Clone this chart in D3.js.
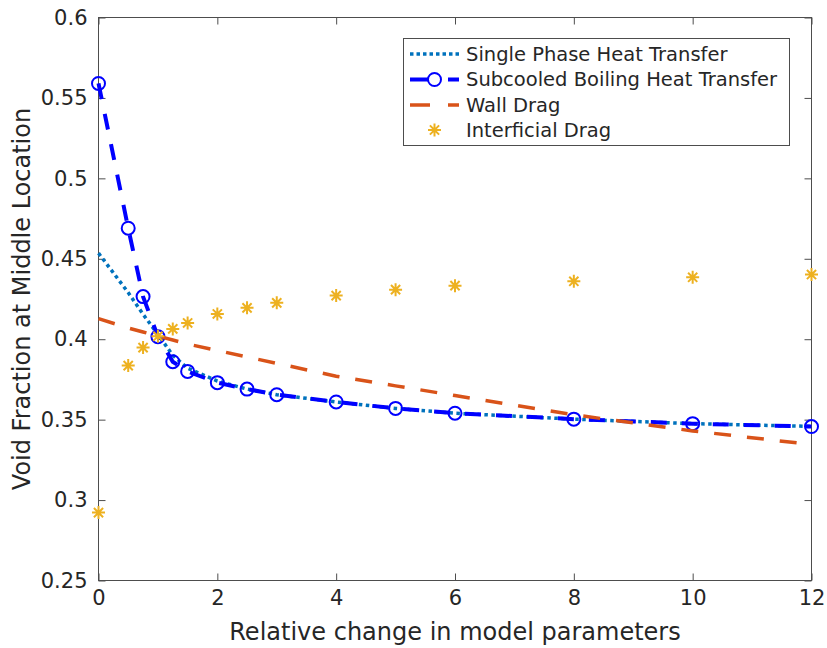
<!DOCTYPE html>
<html>
<head>
<meta charset="utf-8">
<script src="https://cdn.jsdelivr.net/npm/d3@7"></script>
<style>
  body { margin: 0; background: #fff; }
  svg text { font-family: "DejaVu Sans", sans-serif; fill: #262626; }
</style>
</head>
<body>
<script>
// relative change values (x) shared by every series
var xs = [0, 0.5, 0.75, 1, 1.25, 1.5, 2, 2.5, 3, 4, 5, 6, 8, 10, 12];

var singlePhase = [0.4535, 0.429, 0.4155, 0.403, 0.390, 0.382, 0.374, 0.369, 0.3655, 0.361, 0.357, 0.354, 0.3503, 0.3475, 0.3458];
var subcooled   = [0.559, 0.469, 0.4265, 0.4016, 0.386, 0.380, 0.373, 0.369, 0.3655, 0.361, 0.357, 0.354, 0.3503, 0.3475, 0.3457];
var wallDrag    = [0.4128, 0.407, 0.4045, 0.402, 0.3995, 0.397, 0.393, 0.389, 0.385, 0.377, 0.371, 0.365, 0.353, 0.343, 0.3345];
var interDrag   = [0.2922, 0.3836, 0.3948, 0.4018, 0.4064, 0.4101, 0.4157, 0.4195, 0.4226, 0.4271, 0.4308, 0.4333, 0.4360, 0.4385, 0.4402];

var xTicks = [0, 2, 4, 6, 8, 10, 12];
var yTicks = [0.25, 0.3, 0.35, 0.4, 0.45, 0.5, 0.55, 0.6];

var seriesNames = ["Single Phase Heat Transfer", "Subcooled Boiling Heat Transfer", "Wall Drag", "Interficial Drag"];

var w = 827, h = 648;
var pLeft = 98.5, pRight = 811.5, pTop = 17.5, pBottom = 580.5;
var axisColor = "#4d4d4d";

var svg = d3.select("body").append("svg")
    .attr("width", w)
    .attr("height", h);

var x = d3.scaleLinear().domain([0, 12]).range([pLeft, pRight]);
var y = d3.scaleLinear().domain([0.25, 0.6]).range([pBottom, pTop]);

// ticks inward on all four sides (box on)
function tickAxis(axis, tr) {
    var g = svg.append("g").attr("transform", tr).call(axis);
    g.select(".domain").remove();
    g.selectAll(".tick line").attr("stroke", axisColor);
    return g;
}

var gx = tickAxis(d3.axisBottom(x).tickValues(xTicks).tickSize(-7).tickPadding(10), "translate(0," + pBottom + ")");
gx.selectAll("text").attr("font-size", 21).attr("fill", "#262626").attr("font-family", "DejaVu Sans");
tickAxis(d3.axisTop(x).tickValues(xTicks).tickSize(-7).tickFormat(""), "translate(0," + pTop + ")");

var gy = tickAxis(d3.axisLeft(y).tickValues(yTicks).tickSize(-7).tickPadding(11).tickFormat(function(d) { return String(+d.toFixed(2)); }), "translate(" + pLeft + ",0)");
gy.selectAll("text").attr("font-size", 21).attr("fill", "#262626").attr("font-family", "DejaVu Sans");
tickAxis(d3.axisRight(y).tickValues(yTicks).tickSize(-7).tickFormat(""), "translate(" + pRight + ",0)");

svg.append("rect")
    .attr("x", pLeft).attr("y", pTop)
    .attr("width", pRight - pLeft).attr("height", pBottom - pTop)
    .attr("fill", "none").attr("stroke", axisColor).attr("stroke-width", 1);

// axis labels
svg.append("text")
    .attr("x", (pLeft + pRight) / 2).attr("y", 640)
    .attr("text-anchor", "middle").attr("font-size", 24)
    .text("Relative change in model parameters");

svg.append("text")
    .attr("transform", "translate(30," + (pTop + pBottom) / 2 + ") rotate(-90)")
    .attr("text-anchor", "middle").attr("font-size", 24)
    .text("Void Fraction at Middle Location");

var line = d3.line()
    .x(function(d) { return x(d[0]); })
    .y(function(d) { return y(d[1]); });

function pairs(vals) {
    return xs.map(function(v, i) { return [v, vals[i]]; });
}

var plot = svg.append("g");

plot.append("path").datum(pairs(singlePhase))
    .attr("d", line).attr("fill", "none")
    .attr("stroke", "#0072BD").attr("stroke-width", 3.5)
    .attr("stroke-dasharray", "3.5,3.5");

plot.append("path").datum(pairs(subcooled))
    .attr("d", line).attr("fill", "none")
    .attr("stroke", "#0000FF").attr("stroke-width", 4)
    .attr("stroke-dasharray", "16,15");

plot.selectAll("circle.sub").data(pairs(subcooled)).enter()
    .append("circle").attr("class", "sub")
    .attr("cx", function(d) { return x(d[0]); })
    .attr("cy", function(d) { return y(d[1]); })
    .attr("r", 6.5)
    .attr("fill", "none").attr("stroke", "#0000FF").attr("stroke-width", 2);

plot.append("path").datum(pairs(wallDrag))
    .attr("d", line).attr("fill", "none")
    .attr("stroke", "#D95319").attr("stroke-width", 3.5)
    .attr("stroke-dasharray", "17,16");

function asterisk(g, cx, cy, s) {
    var a = s * 0.7071;
    var d = "M" + (cx - s) + "," + cy + "H" + (cx + s) +
            "M" + cx + "," + (cy - s) + "V" + (cy + s) +
            "M" + (cx - a) + "," + (cy - a) + "L" + (cx + a) + "," + (cy + a) +
            "M" + (cx - a) + "," + (cy + a) + "L" + (cx + a) + "," + (cy - a);
    g.append("path").attr("d", d)
        .attr("stroke", "#EDB120").attr("stroke-width", 2).attr("fill", "none");
}

pairs(interDrag).forEach(function(d) {
    asterisk(plot, x(d[0]), y(d[1]), 6.5);
});

// legend
var lg = svg.append("g");
lg.append("rect")
    .attr("x", 403.5).attr("y", 38.5).attr("width", 386).attr("height", 107)
    .attr("fill", "#fff").attr("stroke", axisColor).attr("stroke-width", 1);

var rowY = [54, 79.5, 105, 130];
var lx0 = 410, lx1 = 459;

lg.append("line").attr("x1", lx0).attr("x2", lx1).attr("y1", rowY[0]).attr("y2", rowY[0])
    .attr("stroke", "#0072BD").attr("stroke-width", 3.5).attr("stroke-dasharray", "3.5,3");
lg.append("line").attr("x1", lx0).attr("x2", lx1).attr("y1", rowY[1]).attr("y2", rowY[1])
    .attr("stroke", "#0000FF").attr("stroke-width", 4).attr("stroke-dasharray", "23,15,11");
lg.append("circle").attr("cx", (lx0 + lx1) / 2).attr("cy", rowY[1]).attr("r", 6.5)
    .attr("fill", "#fff").attr("stroke", "#0000FF").attr("stroke-width", 2);
lg.append("line").attr("x1", lx0).attr("x2", lx1).attr("y1", rowY[2]).attr("y2", rowY[2])
    .attr("stroke", "#D95319").attr("stroke-width", 3.5).attr("stroke-dasharray", "20,18,11");
asterisk(lg, (lx0 + lx1) / 2, rowY[3], 6.5);

lg.selectAll("text.leg").data(seriesNames).enter()
    .append("text").attr("class", "leg")
    .attr("x", 466)
    .attr("y", function(d, i) { return rowY[i]; })
    .attr("dy", "0.35em")
    .attr("font-size", 19.5)
    .text(function(d) { return d; });
</script>
</body>
</html>
